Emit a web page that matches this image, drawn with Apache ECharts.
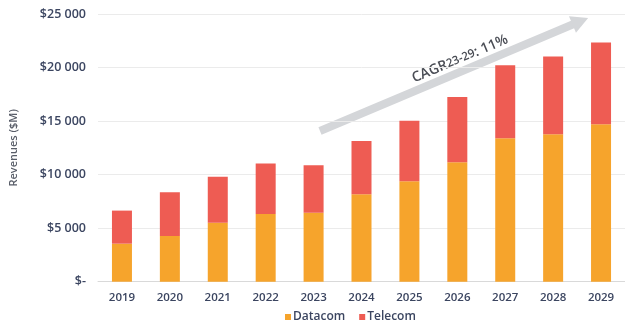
<!DOCTYPE html>
<html>
<head>
<meta charset="utf-8">
<script src="https://cdn.jsdelivr.net/npm/echarts@6/dist/echarts.min.js"></script>
<style>
  html, body { margin: 0; padding: 0; background: #fff; }
  #chart { width: 625px; height: 331px; }
</style>
</head>
<body>
<div id="chart"></div>
<script>
// Revenue forecast by segment, $M
const years = ['2019', '2020', '2021', '2022', '2023', '2024', '2025', '2026', '2027', '2028', '2029'];
const datacom = [3550, 4270, 5510, 6330, 6450, 8170, 9380, 11160, 13400, 13780, 14710];
const telecom = [3090, 4090, 4300, 4700, 4430, 4980, 5640, 6100, 6820, 7250, 7630];
const yTicks = [0, 5000, 10000, 15000, 20000, 25000];

const FONT = '"Open Sans", "DejaVu Sans", sans-serif';
const LABEL_COLOR = '#3b4560';

function money(v) {
  if (v === 0) return '$-';
  const s = String(Math.round(v));
  return '$' + s.replace(/\B(?=(\d{3})+(?!\d))/g, ' ');
}

const chart = echarts.init(document.getElementById('chart'), null, { renderer: 'canvas' });

chart.setOption({
  animation: false,
  textStyle: { fontFamily: FONT },
  grid: { left: 95, top: 14, width: 541, bottom: 49.3 },
  legend: {
    data: ['Datacom', 'Telecom'],
    left: 280,
    bottom: 3,
    itemWidth: 6,
    itemHeight: 6,
    itemGap: 14,
    icon: 'rect',
    textStyle: { fontFamily: FONT, fontSize: 12, fontWeight: 600, color: LABEL_COLOR, padding: [0, 0, 0, -3] }
  },
  xAxis: {
    type: 'category',
    data: years,
    axisTick: { show: false },
    axisLine: { show: true, lineStyle: { color: '#d9d9d9', width: 1 } },
    axisLabel: { fontFamily: FONT, fontSize: 11.5, fontWeight: 600, color: LABEL_COLOR, margin: 10 }
  },
  yAxis: {
    type: 'value',
    min: yTicks[0],
    max: yTicks[yTicks.length - 1],
    interval: yTicks[1] - yTicks[0],
    name: 'Revenues ($M)',
    nameLocation: 'middle',
    nameGap: 79,
    nameTextStyle: { fontFamily: FONT, fontSize: 11, fontWeight: 600, color: '#585d68' },
    axisLine: { show: false },
    axisTick: { show: false },
    axisLabel: {
      fontFamily: FONT, fontSize: 12.5, fontWeight: 600, color: LABEL_COLOR, margin: 12,
      formatter: money
    },
    splitLine: { lineStyle: { color: '#ebebeb', width: 1 } }
  },
  series: [
    {
      name: 'Datacom',
      type: 'bar',
      stack: 'rev',
      data: datacom,
      barWidth: 20,
      itemStyle: { color: '#f6a42c' }
    },
    {
      name: 'Telecom',
      type: 'bar',
      stack: 'rev',
      data: telecom,
      barWidth: 20,
      itemStyle: { color: '#ee5c53' }
    }
  ],
  graphic: [
    {
      // growth arrow annotation
      type: 'group',
      x: 320,
      y: 131,
      rotation: Math.atan2(113, 268),
      silent: true,
      children: [
        {
          type: 'rect',
          shape: { x: 0, y: -4, width: 278, height: 8 },
          style: { fill: '#d4d6d9' }
        },
        {
          type: 'polygon',
          shape: { points: [[274, -9], [291, 0], [274, 9]] },
          style: { fill: '#d4d6d9' }
        },
        {
          type: 'text',
          x: 157,
          y: -12,
          style: {
            text: '{a|CAGR}{b|23-29}{a|: 11%}',
            align: 'center',
            verticalAlign: 'middle',
            rich: {
              a: { fontFamily: FONT, fontSize: 14, fontWeight: 600, fill: '#4a4d55' },
              b: { fontFamily: FONT, fontSize: 11.5, fontWeight: 600, fill: '#4a4d55' }
            }
          }
        }
      ]
    }
  ]
});
</script>
</body>
</html>
